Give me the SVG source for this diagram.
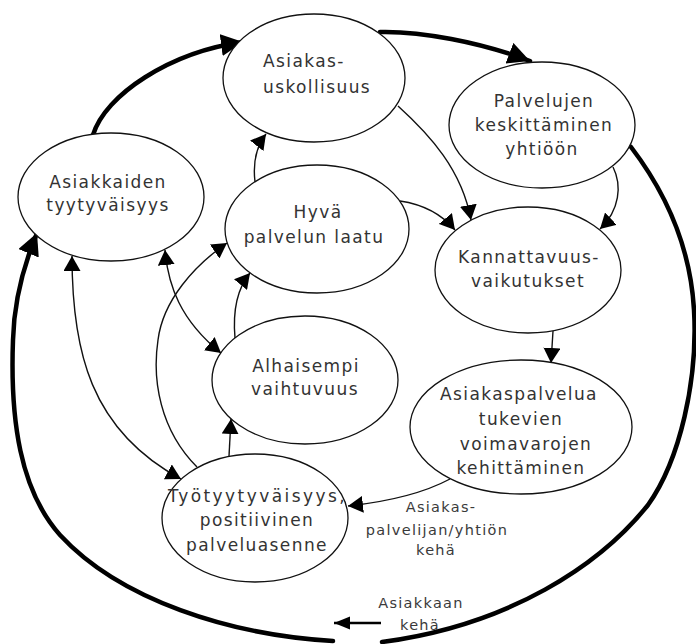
<svg xmlns="http://www.w3.org/2000/svg" width="696" height="644" viewBox="0 0 696 644">
<style>
.bg{fill:#fff}
.node ellipse{fill:#fff;stroke:#111;stroke-width:1.3}
.t{font-family:"DejaVu Sans",Verdana,sans-serif;font-size:17px;letter-spacing:1.4px;fill:#333;text-anchor:middle}
.l{font-family:"DejaVu Sans",Verdana,sans-serif;font-size:14.5px;letter-spacing:1.3px;fill:#3a3a3a;text-anchor:middle}
.thin{fill:none;stroke:#111;stroke-width:1.4}
.thick{fill:none;stroke:#000;stroke-width:4.5;stroke-linecap:round}
</style>
<defs>
<marker id="ah" markerUnits="userSpaceOnUse" markerWidth="16" markerHeight="17" refX="15" refY="8.5" orient="auto-start-reverse" viewBox="0 0 16 17">
<path d="M0,0 L15,8.5 L0,17 z" fill="#000"/>
</marker>
<marker id="big" markerUnits="userSpaceOnUse" markerWidth="24" markerHeight="22" refX="22" refY="11" orient="auto" viewBox="0 0 24 22">
<path d="M0,0 L22,11 L0,22 z" fill="#000"/>
</marker>
<marker id="lab" markerUnits="userSpaceOnUse" markerWidth="18" markerHeight="14" refX="16" refY="6.5" orient="auto" viewBox="0 0 18 14">
<path d="M0,0 L16,6.5 L0,13 z" fill="#000"/>
</marker>
</defs>
<rect class="bg" x="0" y="0" width="696" height="644"/>

<g id="outer-cycle">
<path class="thick" d="M93,135 C105,95 170,52 243,42" marker-end="url(#big)"/>
<path class="thick" d="M380,32 C420,31 480,42 530,61" marker-end="url(#big)"/>
<path class="thick" d="M631,147 C660,185 690,240 694,310 C698,380 680,460 648,505 C600,565 510,625 382,642"/>
<path class="thick" d="M333,641 C230,635 120,600 60,535 C20,490 10,420 13,340 C14,300 25,262 37,233" marker-end="url(#big)"/>
</g>

<g id="connectors">
<path class="thin" d="M255,182 C253,165 255,148 266,134" marker-end="url(#ah)"/>
<path class="thin" d="M398,106 C430,135 462,170 471,220" marker-end="url(#ah)"/>
<path class="thin" d="M400,201 C420,204 440,212 455,230" marker-end="url(#ah)"/>
<path class="thin" d="M613,167 C622,185 620,210 600,229" marker-end="url(#ah)"/>
<path class="thin" d="M553,331 L551,363" marker-end="url(#ah)"/>
<path class="thin" d="M450,479 C420,495 385,502 348,506" marker-end="url(#ah)"/>
<path class="thin" d="M229,456 L231,419" marker-end="url(#ah)"/>
<path class="thin" d="M197,467 C160,430 152,380 158,340 C163,300 195,265 227,243" marker-end="url(#ah)"/>
<path class="thin" d="M165,250 C168,285 180,320 221,353" marker-start="url(#ah)" marker-end="url(#ah)"/>
<path class="thin" d="M72,256 C72,350 90,430 181,479" marker-start="url(#ah)" marker-end="url(#ah)"/>
<path class="thin" d="M235,338 C233,315 236,290 250,273" marker-end="url(#ah)"/>
<path d="M381,623 L334,623" fill="none" stroke="#000" stroke-width="2.5" marker-end="url(#lab)"/>
</g>

<g id="n-uskollisuus" class="node">
<ellipse cx="314" cy="78" rx="91" ry="64"/>
<text class="t" style="text-anchor:start" x="263" y="67">Asiakas-</text>
<text class="t" style="text-anchor:start" x="263" y="93">uskollisuus</text>
</g>
<g id="n-tyytyvaisyys" class="node">
<ellipse cx="111" cy="197" rx="93" ry="64"/>
<text class="t" x="108" y="188">Asiakkaiden</text>
<text class="t" x="108" y="211">tyytyväisyys</text>
</g>
<g id="n-palvelujen" class="node">
<ellipse cx="542" cy="125" rx="93" ry="63"/>
<text class="t" x="544" y="107">Palvelujen</text>
<text class="t" x="544" y="131">keskittäminen</text>
<text class="t" x="542" y="155">yhtiöön</text>
</g>
<g id="n-laatu" class="node">
<ellipse cx="317" cy="229" rx="92" ry="64"/>
<text class="t" x="318" y="218">Hyvä</text>
<text class="t" x="314" y="243">palvelun laatu</text>
</g>
<g id="n-kannattavuus" class="node">
<ellipse cx="528" cy="270" rx="93" ry="63"/>
<text class="t" x="529" y="263">Kannattavuus-</text>
<text class="t" x="528" y="287">vaikutukset</text>
</g>
<g id="n-vaihtuvuus" class="node">
<ellipse cx="305" cy="380" rx="93" ry="64"/>
<text class="t" x="306" y="372">Alhaisempi</text>
<text class="t" x="305" y="395">vaihtuvuus</text>
</g>
<g id="n-tyotyytyvaisyys" class="node">
<ellipse cx="255" cy="518" rx="93" ry="64"/>
<text class="t" x="257" y="502" textLength="178">Työtyytyväisyys,</text>
<text class="t" x="257" y="526">positiivinen</text>
<text class="t" x="257" y="551">palveluasenne</text>
</g>
<g id="n-voimavarat" class="node">
<ellipse cx="521" cy="427" rx="111" ry="67"/>
<text class="t" x="519" y="400">Asiakaspalvelua</text>
<text class="t" x="521" y="425">tukevien</text>
<text class="t" x="526" y="450">voimavarojen</text>
<text class="t" x="521" y="474">kehittäminen</text>
</g>

<g id="labels">
<text class="l" x="441" y="512">Asiakas-</text>
<text class="l" x="437" y="535">palvelijan/yhtiön</text>
<text class="l" x="436" y="555">kehä</text>
<text class="l" x="421" y="608">Asiakkaan</text>
<text class="l" x="420" y="630">kehä</text>
</g>
</svg>
